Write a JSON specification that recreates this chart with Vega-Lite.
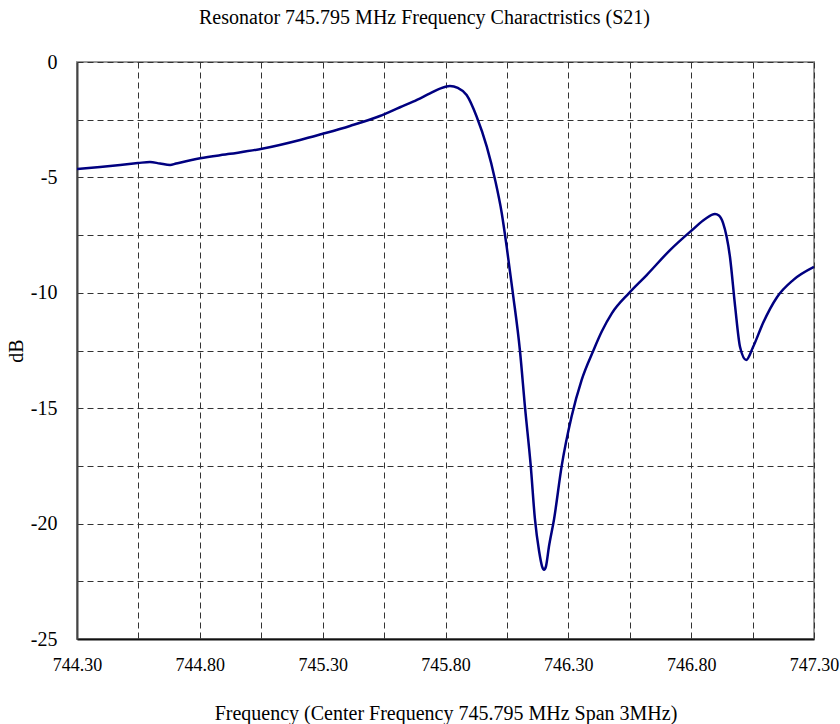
{
  "$schema": "https://vega.github.io/schema/vega-lite/v6.json",
  "autosize": "none",
  "width": 737,
  "height": 577,
  "padding": {"left": 77, "top": 62, "right": 26, "bottom": 85},
  "background": "white",
  "config": {
    "font": "Liberation Serif",
    "view": {"stroke": "#999999", "strokeWidth": 2}
  },
  "title": {
    "text": "Resonator 745.795 MHz Frequency Charactristics (S21)",
    "font": "Liberation Serif",
    "fontSize": 20,
    "fontWeight": "normal",
    "color": "#000000",
    "anchor": "middle",
    "dx": -21,
    "offset": 24
  },
  "data": {
    "values": [
      {"freq": 744.300, "dB": -4.64},
      {"freq": 744.394, "dB": -4.55},
      {"freq": 744.548, "dB": -4.38},
      {"freq": 744.597, "dB": -4.33},
      {"freq": 744.638, "dB": -4.40},
      {"freq": 744.679, "dB": -4.46},
      {"freq": 744.703, "dB": -4.40},
      {"freq": 744.801, "dB": -4.17},
      {"freq": 744.923, "dB": -3.98},
      {"freq": 745.053, "dB": -3.76},
      {"freq": 745.208, "dB": -3.38},
      {"freq": 745.297, "dB": -3.12},
      {"freq": 745.411, "dB": -2.77},
      {"freq": 745.533, "dB": -2.34},
      {"freq": 745.615, "dB": -1.96},
      {"freq": 745.668, "dB": -1.72},
      {"freq": 745.737, "dB": -1.36},
      {"freq": 745.780, "dB": -1.14},
      {"freq": 745.818, "dB": -1.04},
      {"freq": 745.850, "dB": -1.12},
      {"freq": 745.886, "dB": -1.43},
      {"freq": 745.927, "dB": -2.37},
      {"freq": 745.968, "dB": -3.67},
      {"freq": 746.002, "dB": -5.11},
      {"freq": 746.029, "dB": -6.55},
      {"freq": 746.049, "dB": -8.0},
      {"freq": 746.074, "dB": -10.0},
      {"freq": 746.103, "dB": -12.5},
      {"freq": 746.124, "dB": -15.0},
      {"freq": 746.147, "dB": -17.5},
      {"freq": 746.164, "dB": -19.8},
      {"freq": 746.181, "dB": -21.2},
      {"freq": 746.193, "dB": -21.85},
      {"freq": 746.201, "dB": -22.0},
      {"freq": 746.209, "dB": -21.85},
      {"freq": 746.221, "dB": -21.0},
      {"freq": 746.242, "dB": -19.8},
      {"freq": 746.273, "dB": -17.5},
      {"freq": 746.313, "dB": -15.37},
      {"freq": 746.354, "dB": -13.78},
      {"freq": 746.402, "dB": -12.5},
      {"freq": 746.436, "dB": -11.68},
      {"freq": 746.477, "dB": -10.89},
      {"freq": 746.548, "dB": -10.0},
      {"freq": 746.619, "dB": -9.23},
      {"freq": 746.714, "dB": -8.15},
      {"freq": 746.804, "dB": -7.28},
      {"freq": 746.857, "dB": -6.80},
      {"freq": 746.897, "dB": -6.59},
      {"freq": 746.913, "dB": -6.65},
      {"freq": 746.930, "dB": -6.98},
      {"freq": 746.958, "dB": -8.45},
      {"freq": 746.979, "dB": -10.6},
      {"freq": 746.999, "dB": -12.35},
      {"freq": 747.024, "dB": -12.91},
      {"freq": 747.052, "dB": -12.35},
      {"freq": 747.093, "dB": -11.3},
      {"freq": 747.150, "dB": -10.18},
      {"freq": 747.215, "dB": -9.45},
      {"freq": 747.300, "dB": -8.88}
    ]
  },
  "mark": {"type": "line", "color": "#000080", "strokeWidth": 2.5, "interpolate": "monotone", "clip": true},
  "encoding": {
    "x": {
      "field": "freq",
      "type": "quantitative",
      "scale": {"domain": [744.3, 747.3], "nice": false, "zero": false},
      "axis": {
        "title": "Frequency (Center Frequency 745.795 MHz Span 3MHz)",
        "titleFont": "Liberation Serif",
        "titleFontSize": 20,
        "titleFontWeight": "normal",
        "titleColor": "#000000",
        "titlePadding": 29,
        "values": [744.3, 744.55, 744.8, 745.05, 745.3, 745.55, 745.8, 746.05, 746.3, 746.55, 746.8, 747.05, 747.3],
        "labelExpr": "abs((datum.value-744.3)/0.5 - round((datum.value-744.3)/0.5)) < 0.01 ? format(datum.value, '.2f') : ''",
        "labelFont": "Liberation Serif",
        "labelFontSize": 18,
        "labelColor": "#000000",
        "labelPadding": 17,
        "labelFlush": false,
        "ticks": false,
        "grid": true,
        "gridColor": "#333333",
        "gridDash": [6, 4],
        "gridWidth": 1,
        "domainColor": "#111111",
        "domainWidth": 2
      }
    },
    "y": {
      "field": "dB",
      "type": "quantitative",
      "scale": {"domain": [-25, 0], "nice": false},
      "axis": {
        "title": "dB",
        "titleFont": "Liberation Serif",
        "titleFontSize": 20,
        "titleFontWeight": "normal",
        "titleColor": "#000000",
        "titlePadding": 4,
        "values": [-25, -22.5, -20, -17.5, -15, -12.5, -10, -7.5, -5, -2.5, 0],
        "labelExpr": "datum.value % 5 == 0 ? '' + datum.value : ''",
        "labelFont": "Liberation Serif",
        "labelFontSize": 20,
        "labelColor": "#000000",
        "labelPadding": 20,
        "labelFlush": false,
        "ticks": false,
        "grid": true,
        "gridColor": "#333333",
        "gridDash": [6, 4],
        "gridWidth": 1,
        "domainColor": "#444444",
        "domainWidth": 2
      }
    }
  }
}
